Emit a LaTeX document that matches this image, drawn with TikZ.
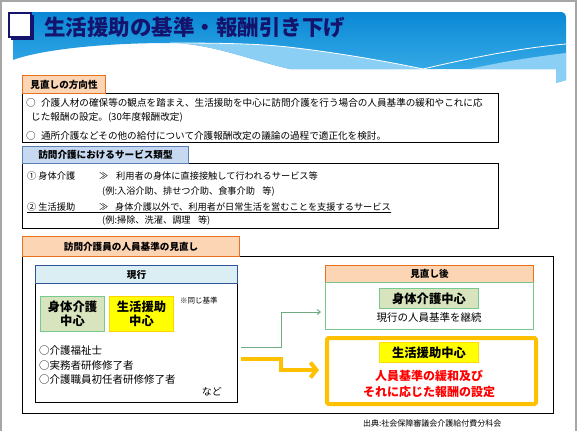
\documentclass[tikz,border=0pt]{standalone}
\usepackage{fontspec}
\setmainfont{Noto Sans CJK JP}
\usetikzlibrary{arrows.meta}

\definecolor{frameGray}{HTML}{A6A6A6}
\definecolor{titleNavy}{HTML}{14146E}
\definecolor{bannerTop}{HTML}{0A88D5}
\definecolor{bannerBottom}{HTML}{40B1EA}
\definecolor{bannerLight}{HTML}{8BCFF5}
\definecolor{tabPeach}{HTML}{FCD5B5}
\definecolor{tabOrange}{HTML}{E9711C}
\definecolor{tabBlue}{HTML}{C6D9F1}
\definecolor{tabBlueLine}{HTML}{5B7FB5}
\definecolor{headBlue}{HTML}{DBEEF4}
\definecolor{headBlueLine}{HTML}{2F5597}
\definecolor{careGreen}{HTML}{D7E4BD}
\definecolor{careGreenLine}{HTML}{77C98F}
\definecolor{lifeYellow}{HTML}{FFFF00}
\definecolor{lifeOrange}{HTML}{FFC000}
\definecolor{alertRed}{HTML}{FF0000}

\newcommand{\sectionTab}[6]{% name, x, y, width, style, text
    \node[#5, minimum width=#4pt, anchor=north west] (#1) at (#2,#3) {#6};
}
\newcommand{\bodyBox}[6]{% name, x, y, width, height, style
    \node[#6, minimum width=#4pt, minimum height=#5pt, anchor=north west] (#1) at (#2,#3) {};
}

\begin{document}
\begin{tikzpicture}[x=1pt, y=-1pt,
    txt/.style={inner sep=0pt, anchor=west, text=black},
    body/.style={txt, font=\fontsize{9.6}{11}\selectfont},
    kind/.style={txt, font=\fontsize{9.2}{11}\selectfont},
    peachtab/.style={draw=tabOrange, fill=tabPeach, line width=1.1pt, inner sep=0pt,
        minimum height=18pt, font=\fontsize{9.6}{11}\selectfont\bfseries},
    bluetab/.style={draw=tabBlueLine, fill=tabBlue, line width=1pt, inner sep=0pt,
        minimum height=17pt, font=\fontsize{9.6}{11}\selectfont\bfseries},
    frame/.style={draw=black, line width=1.3pt, inner sep=0pt},
    greenbox/.style={draw=careGreenLine, fill=careGreen, line width=1pt, inner sep=0pt,
        align=center, font=\fontsize{12.3}{14}\selectfont\bfseries},
    yellowbox/.style={draw=lifeOrange!70!yellow, fill=lifeYellow, line width=1pt, inner sep=0pt,
        align=center, font=\fontsize{12.3}{14}\selectfont\bfseries},
    redtext/.style={inner sep=0pt, text=alertRed, font=\fontsize{12}{14}\selectfont\bfseries},
    careLink/.style={careGreenLine!80!black!90, line width=1pt, -{Straight Barb[length=3pt,width=5pt]}},
    lifeLink/.style={lifeOrange, line width=4pt, -{Straight Barb[length=6pt,width=15pt]}}]

    \useasboundingbox (0,0) rectangle (578,431);
    \draw[frameGray, line width=1.5pt] (1,431) -- (1,1) -- (576,1) -- (576,431);

    % --- BANNER ---
    \shade[top color=bannerTop, bottom color=bannerBottom]
        (13,12) -- (560,12) .. controls (564,12) and (566,14) .. (566,18) -- (566,80) -- (556,83)
        -- (556,69) -- (290,69) .. controls (250,60) and (210,43) .. (170,43)
        .. controls (100,43) and (40,50) .. (13,60) -- cycle;
    \fill[bannerLight] (170,43) .. controls (230,43) and (260,44) .. (288,47)
        .. controls (340,53) and (390,62) .. (423,69) -- (290,69)
        .. controls (250,60) and (210,43) .. (170,43) -- cycle;
    \fill[bannerLight] (470,69) .. controls (500,62) and (540,56) .. (566,53)
        -- (566,80) -- (556,83) -- (556,69) -- cycle;
    \draw[white, line width=0.8pt] (170,43) .. controls (230,43) and (260,44) .. (288,47)
        .. controls (340,53) and (390,62) .. (423,69) .. controls (470,58) and (520,48) .. (566,44);
    \fill[titleNavy] (11,15) rectangle (34,40);
    \draw[titleNavy, line width=1.6pt, fill=white] (9,13) rectangle (31,37);
    \node[inner sep=0pt, anchor=west, text=titleNavy, font=\fontsize{21.5}{24}\selectfont\bfseries]
        (titleText) at (44,27) {生活援助の基準・報酬引き下げ};

    % --- ROW 1: 見直しの方向性 ---
    \bodyBox{dirBox}{22}{93}{476}{49}{frame}
    \sectionTab{dirTab}{22}{75}{83}{peachtab}{見直しの方向性}
    \node[body] (dirLineA) at (26,103) {○\hspace{0.55em}介護人材の確保等の観点を踏まえ、生活援助を中心に訪問介護を行う場合の人員基準の緩和やこれに応};
    \node[body] (dirLineB) at (31,117) {じた報酬の設定。(30年度報酬改定)};
    \node[body] (dirLineC) at (26,136) {○\hspace{0.55em}通所介護などその他の給付について介護報酬改定の議論の過程で適正化を検討。};

    % --- ROW 2: サービス類型 ---
    \bodyBox{kindBox}{22}{163}{476}{65}{frame}
    \sectionTab{kindTab}{22}{146}{166}{bluetab}{訪問介護におけるサービス類型}
    \node[kind] (careItem) at (27,176) {① 身体介護};
    \node[kind] (careMark) at (99,176) {≫};
    \node[kind] (careDesc) at (116,176) {利用者の身体に直接接触して行われるサービス等};
    \node[kind] (careEx) at (102,192) {(例:入浴介助、排せつ介助、食事介助\hspace{0.8em}等)};
    \node[kind] (lifeItem) at (27,207) {② 生活援助};
    \node[kind] (lifeMark) at (99,207) {≫};
    \node[kind] (lifeDesc) at (115,207) {身体介護以外で、利用者が日常生活を営むことを支援するサービス};
    \draw[line width=0.7pt] ([yshift=-2pt]lifeItem.base west) -- ([yshift=-2pt]lifeDesc.base east);
    \node[kind] (lifeEx) at (102,221) {(例:掃除、洗濯、調理\hspace{0.8em}等)};

    % --- ROW 3: 人員基準の見直し ---
    \bodyBox{staffBox}{22}{256}{531}{157}{frame}
    \sectionTab{staffTab}{22}{236}{217}{peachtab, minimum height=20pt, line width=1.2pt}{訪問介護員の人員基準の見直し}

    % current rules
    \bodyBox{nowBody}{35}{283}{202}{119}{frame, line width=1.2pt}
    \node[draw=headBlueLine, fill=headBlue, line width=1pt, inner sep=0pt, minimum width=202pt,
        minimum height=18pt, anchor=north west, font=\fontsize{9.6}{11}\selectfont\bfseries]
        (nowHead) at (35,265) {現行};
    \node[greenbox, minimum width=64pt, minimum height=35pt, anchor=north west] (nowCare) at (40,296) {身体介護\\中心};
    \node[yellowbox, minimum width=64pt, minimum height=35pt, anchor=north west] (nowLife) at (109,296) {生活援助\\中心};
    \node[txt, font=\fontsize{7.5}{9}\selectfont] (sameRule) at (180,301) {※同じ基準};
    \node[txt, font=\fontsize{10.5}{12}\selectfont] (qualA) at (39,351) {○介護福祉士};
    \node[txt, font=\fontsize{10.5}{12}\selectfont] (qualB) at (39,366) {○実務者研修修了者};
    \node[txt, font=\fontsize{10.5}{12}\selectfont] (qualC) at (39,380) {○介護職員初任者研修修了者};
    \node[txt, anchor=east, font=\fontsize{10}{12}\selectfont] (qualEtc) at (222,392) {など};

    % after revision
    \node[draw=tabOrange, fill=tabPeach, line width=1.1pt, inner sep=0pt, minimum width=208pt,
        minimum height=17pt, anchor=north west, font=\fontsize{9.6}{11}\selectfont\bfseries]
        (newHead) at (325,265) {見直し後};
    \bodyBox{keepBox}{325}{282}{208}{47}{draw=careGreenLine, line width=1pt, inner sep=0pt}
    \node[greenbox, minimum width=99pt, minimum height=20pt, anchor=north west] (newCare) at (379,288) {身体介護中心};
    \node[inner sep=0pt, font=\fontsize{10.5}{12}\selectfont] (keepText) at (429,318) {現行の人員基準を継続};
    \node[draw=lifeOrange, line width=4pt, rounded corners=1.5pt, inner sep=0pt, minimum width=209pt,
        minimum height=66pt, anchor=north west] (easeBox) at (325,336) {};
    \node[yellowbox, draw=yellow!80!orange, minimum width=99pt, minimum height=20pt, anchor=north west] (newLife) at (379,342) {生活援助中心};
    \node[redtext] (easeA) at (429,376) {人員基準の緩和及び};
    \node[redtext] (easeB) at (429,392) {それに応じた報酬の設定};

    % arrows
    \coordinate (careStart) at (241,347);
    \coordinate (lifeStart) at (241,359);
    \draw[careLink] (careStart) -- ++(40pt,0pt) |- ([xshift=-4pt]keepBox.west |- 0,312);
    \draw[lifeLink] (lifeStart) -- ++(40pt,0pt) |- ([xshift=-6pt]easeBox.west |- 0,370);

    % source
    \node[txt, font=\fontsize{8}{10}\selectfont] (sourceNote) at (363,423) {出典:社会保障審議会介護給付費分科会};

\end{tikzpicture}
\end{document}
